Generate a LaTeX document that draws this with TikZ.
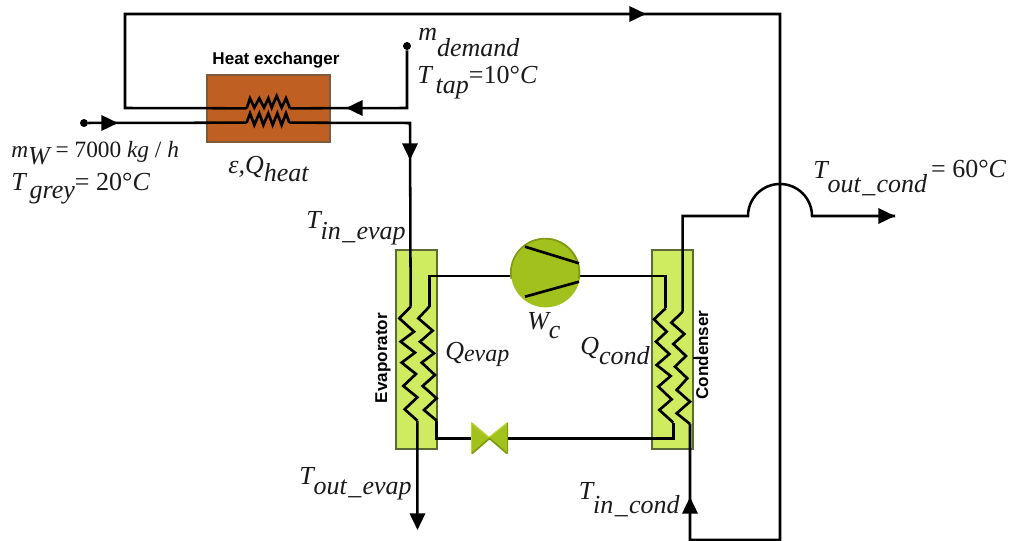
\documentclass[tikz,border=0pt]{standalone}
\usepackage{fontspec}
\setmainfont{Liberation Serif}
\setsansfont{Liberation Sans}
\usetikzlibrary{arrows.meta}
\definecolor{hxfill}{HTML}{C05F22}
\definecolor{hxedge}{HTML}{7D5A3C}
\definecolor{evfill}{HTML}{CFEB5F}
\definecolor{evedge}{HTML}{5C6B35}
\definecolor{cpfill}{HTML}{A2C11C}
\definecolor{cpdark}{HTML}{7F9812}
\definecolor{cplight}{HTML}{BAD43A}
\definecolor{txt}{HTML}{1A1A1A}
\newcommand{\dn}[2]{\raisebox{-#1pt}{#2}}
\newcommand{\us}{\hspace{1pt}\_\hspace{1pt}}
\tikzset{
  pipe/.style={draw=black,line width=1.9pt,line join=miter},
  coil/.style={draw=black,line width=2pt,line join=miter},
  flow/.style={pipe,-{Triangle[length=12.5pt,width=11.5pt]}},
  hxbox/.style={draw=hxedge,fill=hxfill,line width=1.2pt,rectangle,inner sep=0pt},
  evbox/.style={draw=evedge,fill=evfill,line width=1.5pt,rectangle,inner sep=0pt},
  eqn/.style={anchor=base west,inner sep=0pt,text=txt,font=\itshape\fontsize{19.5}{22}\selectfont},
  boxlabel/.style={inner sep=0pt,font=\sffamily\bfseries\fontsize{12.8}{15}\selectfont},
  tapdot/.style={circle,fill=black,inner sep=0pt,minimum size=6pt},
  rimlight/.style={draw=cplight,line width=1pt},
  rimdark/.style={draw=cpdark,line width=1.2pt}
}
\begin{document}
\begin{tikzpicture}[x=0.75pt,y=-0.75pt]
\useasboundingbox (0,0) rectangle (1010,541);
% equipment
\node[hxbox,minimum width=92pt,minimum height=50pt] (hx) at (268.5,108.5) {};
\node[evbox,minimum width=30.5pt,minimum height=149pt] (evap) at (416.5,349.5) {};
\node[evbox,minimum width=30.5pt,minimum height=149pt] (cond) at (672.5,349.5) {};
\node[tapdot] (dotw) at (84,123) {};
\node[tapdot] (dotd) at (407,46) {};
% coordinates
\coordinate (tl) at (125,14);
\coordinate (tr) at (780,14);
\coordinate (tarrow) at (646,14);
\coordinate (tarrowb) at (600,14);
\coordinate (bl) at (125,108);
\coordinate (br) at (780,540);
\coordinate (bm) at (690,540);
\coordinate (barrow) at (690,497);
\coordinate (dcorner) at (407,108);
\coordinate (darrow) at (346,108);
\coordinate (warrow) at (118,123);
\coordinate (wcorner) at (410,123);
\coordinate (warrow2) at (410,160);
\coordinate (evout) at (417.5,530);
\coordinate (bridgeL) at (748,216);
\coordinate (bridgeR) at (812,216);
\coordinate (condtop) at (682.7,216);
\coordinate (condout) at (895,216);
\coordinate (ticka) at (693,358);
\coordinate (tickb) at (697,358);
% coils
\begin{scope}[shift={(200,70)},scale=0.3333]
\draw[coil] (140,115) coordinate (hx1a) -- (150,85) -- (163,113) -- (178,85) -- (192,113) -- (205,85) -- (215,113) -- (230,78) -- (245,113) -- (258,85) -- (270,115) coordinate (hx1b);
\draw[coil] (140,158) coordinate (hx2a) -- (150,130) -- (163,165) -- (178,130) -- (190,165) -- (205,130) -- (218,165) -- (232,130) -- (245,165) -- (258,130) -- (268,158) coordinate (hx2b);
\end{scope}
\begin{scope}[shift={(280,210)},scale=0.3333]
\draw[coil] (392,290) coordinate (e1a) -- (358,325) -- (402,365) -- (362,395) -- (405,428) -- (365,458) -- (408,492) -- (370,528) -- (412,562) -- (374,598) -- (412,632) coordinate (e1b);
\draw[coil] (448,290) coordinate (e2a) -- (415,325) -- (458,362) -- (420,395) -- (462,430) -- (425,458) -- (465,495) -- (428,528) -- (470,565) -- (432,600) -- (470,632) coordinate (e2b);
\coordinate (e2top) at (448,198);
\coordinate (e2bot) at (470,685);
\end{scope}
\begin{scope}[shift={(500,210)},scale=0.3333]
\draw[coil] (497,295) coordinate (c1a) -- (462,328) -- (500,365) -- (468,395) -- (508,432) -- (470,465) -- (512,498) -- (475,530) -- (515,568) -- (478,600) -- (520,638) coordinate (c1b);
\draw[coil] (548,305) coordinate (c2a) -- (514,338) -- (553,372) -- (520,402) -- (558,438) -- (525,470) -- (562,505) -- (530,540) -- (570,575) -- (530,610) -- (570,642) coordinate (c2b);
\coordinate (c1top) at (497,198);
\coordinate (c1bot) at (520,685);
\end{scope}
% pipes
\draw[pipe] (hx1a) -- (bl) -- (tl) -- (tr) -- (br) -- (bm) -- (c2b);
\draw[pipe] (hx1b) -- (dcorner) -- (dotd);
\draw[pipe] (dotw) -- (hx2a);
\draw[pipe] (hx2b) -- (wcorner) -- (e1a);
\draw[pipe] (e2a) -- (e2top) -- (c1top) -- (c1a);
\draw[pipe] (e2b) -- (e2bot) -- (c1bot) -- (c1b);
\draw[pipe] (c2a) -- (condtop) -- (bridgeL) arc[start angle=180,end angle=360,radius=32] -- (condout);
\draw[pipe,line width=0.8pt] (ticka) -- (tickb);
% flow arrows
\draw[flow] (tarrowb) -- (tarrow);
\draw[flow] (dcorner) -- (darrow);
\draw[flow] (dotw) -- (warrow);
\draw[flow] (wcorner) -- (warrow2);
\draw[flow] (e1b) -- (evout);
\draw[flow] (bridgeR) -- (condout);
\draw[flow] (bm) -- (barrow);
% compressor
\node[circle,fill=cpfill,minimum size=52pt,inner sep=0pt] (comp) at (545.7,272.7) {};
\draw[rimdark] (comp.190) arc[start angle=170,end angle=370,radius=34.2];
\draw[coil] (525,246.7) -- (579,263.3);
\draw[coil] (525,296.7) -- (579,281.7);
% valve
\fill[cpfill] (471,422) -- (490,438) -- (471,454) -- cycle;
\fill[cpfill] (508,422) -- (489,438) -- (508,454) -- cycle;
\draw[rimlight] (471.5,423) -- (471.5,453);
\draw[rimlight] (472,423) -- (489,437.5) -- (507,423);
\draw[rimdark] (472,453.5) -- (489.5,438.5) -- (507,453.5);
\draw[rimdark] (507.5,423) -- (507.5,453);
% labels
\node[boxlabel] (lhx) at (276,60) {Heat exchanger};
\node[boxlabel,rotate=90] (lev) at (383,358) {Evaporator};
\node[boxlabel,rotate=90] (lco) at (702,355) {Condenser};
\node[eqn] (t1) at (418,41) {m\dn{11.5}{demand}};
\node[eqn] (t2) at (417,84) {T\hspace{3pt}\dn{7}{tap}\upshape =10°\itshape C};
\node[eqn] (t3) at (11,158) {{\fontsize{17.5}{20}\selectfont m}\dn{5}{W}\fontsize{17.5}{20}\selectfont\upshape\ = 7000 \itshape kg \upshape/ \itshape h};
\node[eqn] (t4) at (11,191) {T\hspace{3pt}\dn{6}{grey}\upshape= 20°\itshape C};
\node[eqn] (t5) at (228,174) {ε,Q\dn{5.5}{heat}};
\node[eqn] (t6) at (306,229) {T\dn{8}{in\us evap}};
\node[eqn] (t7) at (445,360) {Q\dn{1.5}{\fontsize{18}{20}\selectfont evap}};
\node[eqn] (t8) at (299,484) {T\dn{7.5}{out\us evap}};
\node[eqn] (t9) at (527,330) {W\dn{6}{c}};
\node[eqn] (t10) at (580,355) {Q\dn{7.5}{cond}};
\node[eqn] (t11) at (578.5,499) {T\dn{10.5}{in\us cond}};
\node[eqn] (t12) at (813,179) {T\dn{10.5}{out\us cond}\hspace{3pt}\raisebox{1pt}{\upshape = 60°\itshape C}};
\end{tikzpicture}
\end{document}
